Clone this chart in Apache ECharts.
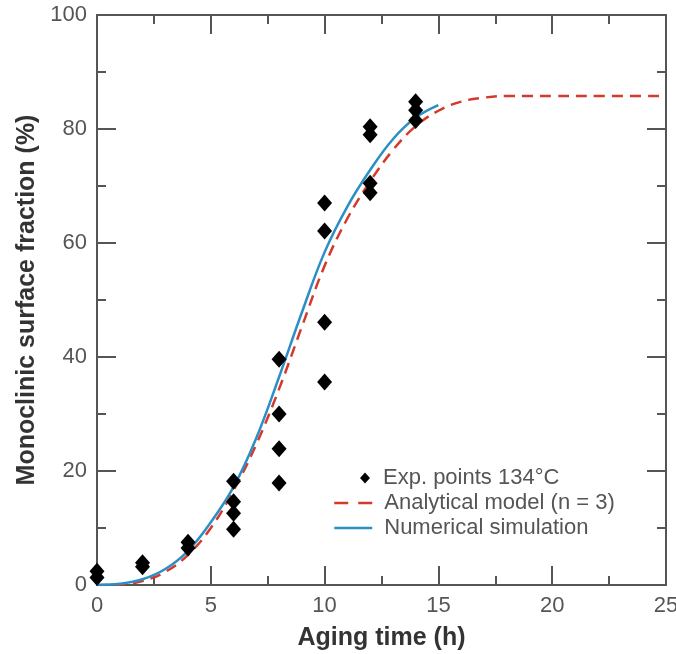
<!DOCTYPE html>
<html>
<head>
<meta charset="utf-8">
<script src="https://cdn.jsdelivr.net/npm/echarts@6/dist/echarts.min.js"></script>
<style>html,body{margin:0;padding:0;background:#fff;}#c{width:676px;height:654px;}</style>
</head>
<body>
<div id="c"></div>
<script>
// Experimental points (x = aging time h, y = monoclinic fraction %)
var expX = [0, 0, 2, 2, 4, 4, 6, 6, 6, 6, 8, 8, 8, 8, 10, 10, 10, 10, 12, 12, 12, 12, 14, 14, 14];
var expY = [2.4, 1.3, 3.9, 3.2, 7.5, 6.5, 18.2, 14.6, 12.6, 9.8, 39.6, 30.0, 23.9, 17.9, 67.0, 62.1, 46.1, 35.6, 80.4, 79.0, 70.5, 68.8, 84.8, 83.3, 81.5];

// Analytical model (n = 3), dashed red
var anaX = [0, 1, 2, 3, 4, 5, 6, 7, 8, 9, 10, 11, 12, 13, 14, 15, 16, 17, 18, 19, 20, 22, 25];
var anaY = [0, 0.1, 0.7, 2.3, 5.3, 10.0, 16.6, 24.7, 34.4, 45.3, 56.0, 64.3, 70.8, 76.3, 80.5, 83.2, 84.8, 85.5, 85.8, 85.8, 85.8, 85.8, 85.8];

// Numerical simulation, solid blue
var numX = [0, 1, 2, 3, 4, 5, 6, 7, 8, 9, 10, 11, 12, 13, 14, 15];
var numY = [0, 0.2, 1.0, 2.8, 6.0, 11.0, 17.2, 25.8, 36.5, 47.8, 58.4, 66.4, 72.8, 78.2, 82.0, 84.2];

var xTicks = [0, 5, 10, 15, 20, 25];
var yTicks = [0, 20, 40, 60, 80, 100];

function pairs(xs, ys) { return xs.map(function (x, i) { return [x, ys[i]]; }); }

var axisColor = '#555';
var labelColor = '#555';
var font = 'Liberation Sans, Arial, sans-serif';

function axisCommon(show, title, gap) {
  return {
    axisLine: { show: true, onZero: false, lineStyle: { color: axisColor, width: 2 } },
    axisTick: { show: true, inside: true, length: 19, lineStyle: { color: axisColor, width: 2 } },
    minorTick: { show: true, splitNumber: 2, length: 9, lineStyle: { color: axisColor, width: 2 } },
    splitLine: { show: false },
    axisLabel: { show: show, color: labelColor, fontSize: 22, fontFamily: font, margin: 10 },
    name: show ? title : '',
    nameLocation: 'middle', nameGap: gap,
    nameTextStyle: { color: '#333', fontSize: 25, fontWeight: 'bold', fontFamily: font }
  };
}
function xAx(pos, show) {
  return Object.assign({ type: 'value', position: pos, min: 0, max: 25, interval: 5 },
    axisCommon(show, 'Aging time (h)', 41));
}
function yAx(pos, show) {
  return Object.assign({ type: 'value', position: pos, min: 0, max: 100, interval: 20 },
    axisCommon(show, 'Monoclinic surface fraction (%)', 57));
}

var chart = echarts.init(document.getElementById('c'), null, { renderer: 'canvas' });
chart.setOption({
  animation: false,
  backgroundColor: '#fff',
  grid: { left: 97, right: 10, top: 15, bottom: 69, containLabel: false, outerBoundsMode: 'none' },
  xAxis: [xAx('bottom', true), xAx('top', false)],
  yAxis: [yAx('left', true), yAx('right', false)],
  legend: [
    {
      orient: 'vertical', left: 360, top: 467, padding: 0,
      itemWidth: 10, itemHeight: 11,
      textStyle: { color: '#555', fontSize: 22, fontFamily: font, padding: [0, 0, 0, 8] },
      data: [{ name: 'Exp. points 134°C', icon: 'diamond' }]
    },
    {
      orient: 'vertical', left: 333, top: 492, padding: 0,
      itemWidth: 38, itemHeight: 14, itemGap: 3,
      itemStyle: { opacity: 0 },
      textStyle: { color: '#555', fontSize: 22, fontFamily: font, padding: [0, 0, 0, 7] },
      data: [
        { name: 'Analytical model (n = 3)', lineStyle: { type: [14, 10], width: 2.5 } },
        { name: 'Numerical simulation', lineStyle: { width: 2.5 } }
      ]
    }
  ],
  series: [
    {
      name: 'Analytical model (n = 3)', type: 'line', smooth: 0.4, showSymbol: false, symbol: 'none',
      data: pairs(anaX, anaY), z: 2,
      lineStyle: { color: '#d43a2c', width: 2.5, type: [11, 7] },
      itemStyle: { color: '#d43a2c' }
    },
    {
      name: 'Numerical simulation', type: 'line', smooth: 0.4, showSymbol: false, symbol: 'none',
      data: pairs(numX, numY), z: 3,
      lineStyle: { color: '#2b8fc6', width: 2.5 },
      itemStyle: { color: '#2b8fc6' }
    },
    {
      name: 'Exp. points 134°C', type: 'scatter', symbol: 'diamond', symbolSize: [15, 17],
      data: pairs(expX, expY), z: 4,
      itemStyle: { color: '#000', opacity: 1 }
    }
  ]
});
</script>
</body>
</html>
